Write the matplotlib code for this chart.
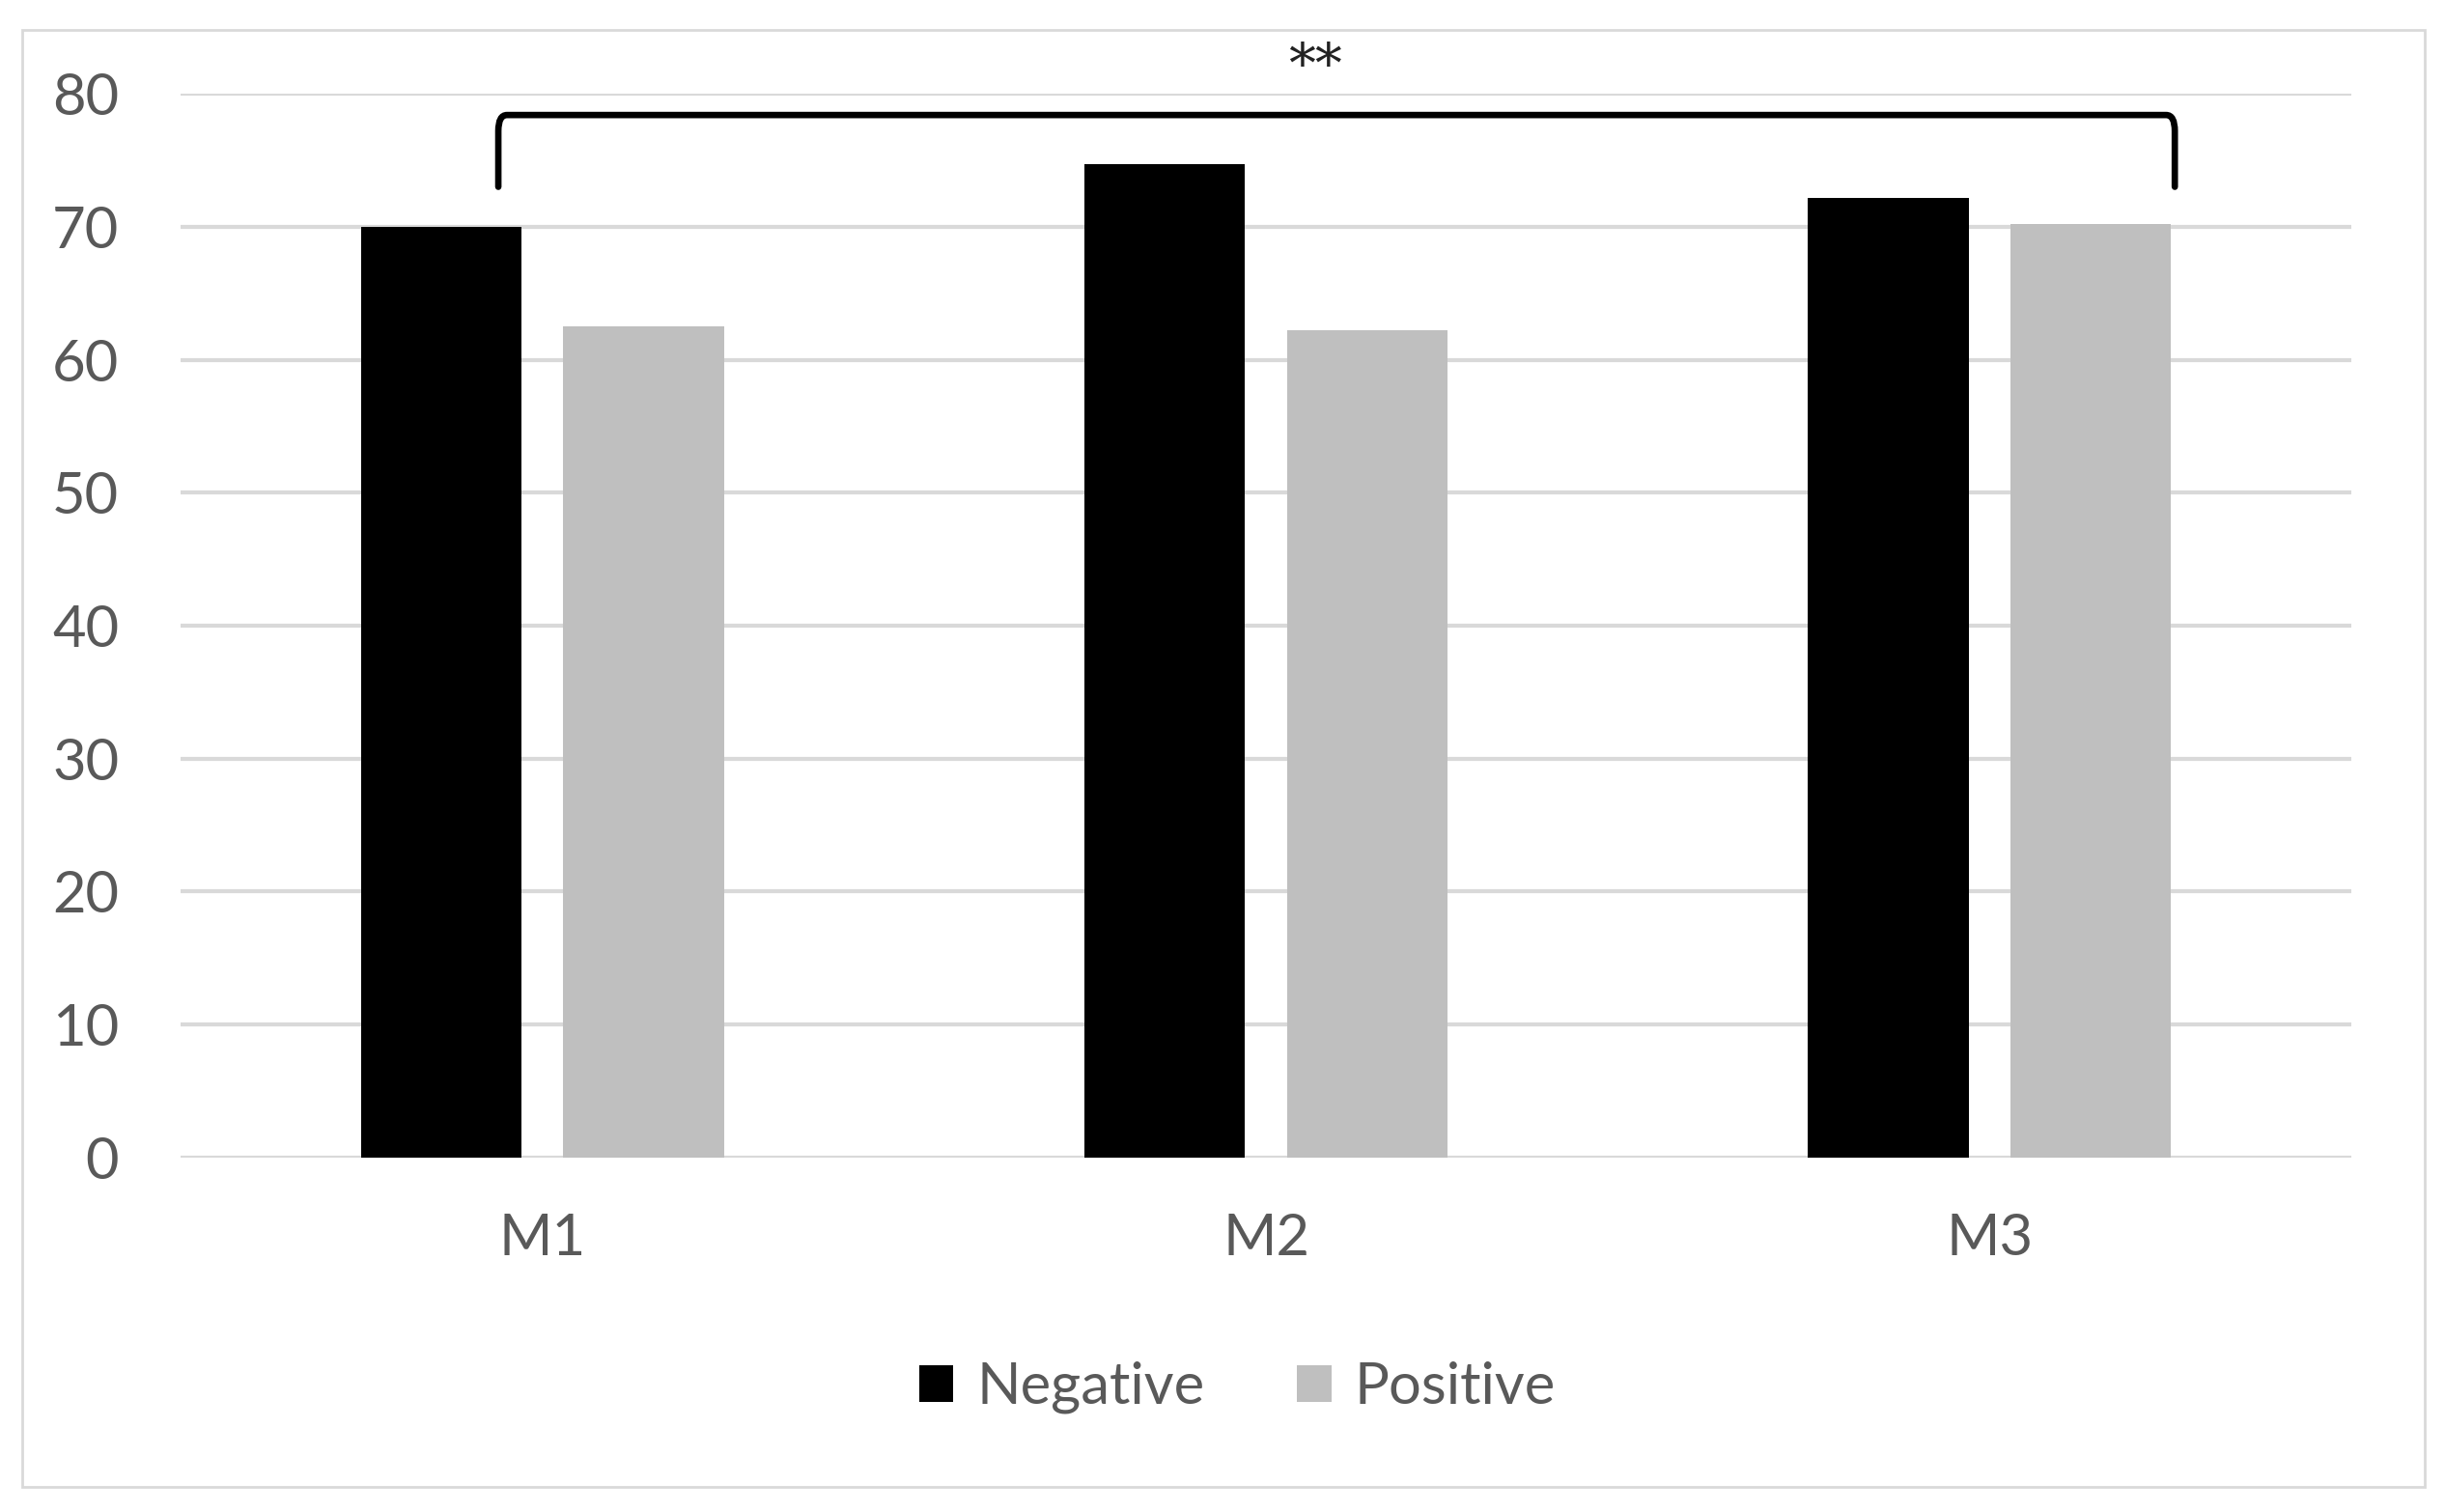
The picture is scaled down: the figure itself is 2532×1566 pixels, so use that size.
import numpy as np
import matplotlib
matplotlib.use("Agg")
from matplotlib import pyplot as plt
from matplotlib.path import Path
from matplotlib.patches import PathPatch, Rectangle

categories = ["M1", "M2", "M3"]
negative = [70.0, 74.7, 72.2]
positive = [62.5, 62.2, 70.2]
yticks = [0, 10, 20, 30, 40, 50, 60, 70, 80]
sig_label = "**"

plt.rcParams['font.family'] = ['Lato', 'DejaVu Sans']

fig = plt.figure(figsize=(25.32, 15.66), dpi=100)
ax = fig.add_axes([0.0739, 0.2344, 0.8878, 0.7036])

x = np.arange(len(categories))
w = 0.222
ax.bar(x - 0.14, negative, w, color="#000000", label="Negative", zorder=3)
ax.bar(x + 0.14, positive, w, color="#bfbfbf", label="Positive", zorder=3)

ax.set_xlim(-0.5, 2.5)
ax.set_ylim(0, 80)
ax.set_yticks(yticks)
ax.set_xticks(x)
ax.set_xticklabels(categories)
ax.yaxis.grid(True, color="#d9d9d9", linewidth=3, zorder=0)
ax.set_axisbelow(True)
for s in ax.spines.values():
    s.set_visible(False)
ax.tick_params(axis="both", length=0, labelsize=43, labelcolor="#595959")
ax.tick_params(axis="y", pad=46)
ax.tick_params(axis="x", pad=41)

# significance bracket with rounded corners
x0, x1, yb, yt = -0.061, 2.256, 73.0, 78.4
r = 0.012
verts = [(x0, yb), (x0, yt - 1.2), (x0, yt), (x0 + r, yt),
         (x1 - r, yt), (x1, yt), (x1, yt - 1.2), (x1, yb)]
codes = [Path.MOVETO, Path.LINETO, Path.CURVE3, Path.CURVE3,
         Path.LINETO, Path.CURVE3, Path.CURVE3, Path.LINETO]
ax.add_patch(PathPatch(Path(verts, codes), fill=False, edgecolor="black",
                       linewidth=4.8, capstyle="round", zorder=4, clip_on=False))
ax.text(1.068, 82.0, sig_label, ha="center", va="center", fontsize=40,
        color="#222222", family=["DejaVu Serif"], fontweight="light",
        clip_on=False)

leg = fig.legend(loc="center", bbox_to_anchor=(0.506, 0.0824), ncol=2,
                 frameon=False, fontsize=43, handlelength=0.6, handleheight=0.6,
                 handletextpad=0.4, columnspacing=1.6)
for t in leg.get_texts():
    t.set_color("#595959")

fig.patches.append(Rectangle((23 / 2532, 1 - 1540 / 1566), (2511 - 23) / 2532,
                             (1540 - 31) / 1566, transform=fig.transFigure,
                             fill=False, edgecolor="#d9d9d9", linewidth=2))

fig.savefig("out.png", dpi=100)
